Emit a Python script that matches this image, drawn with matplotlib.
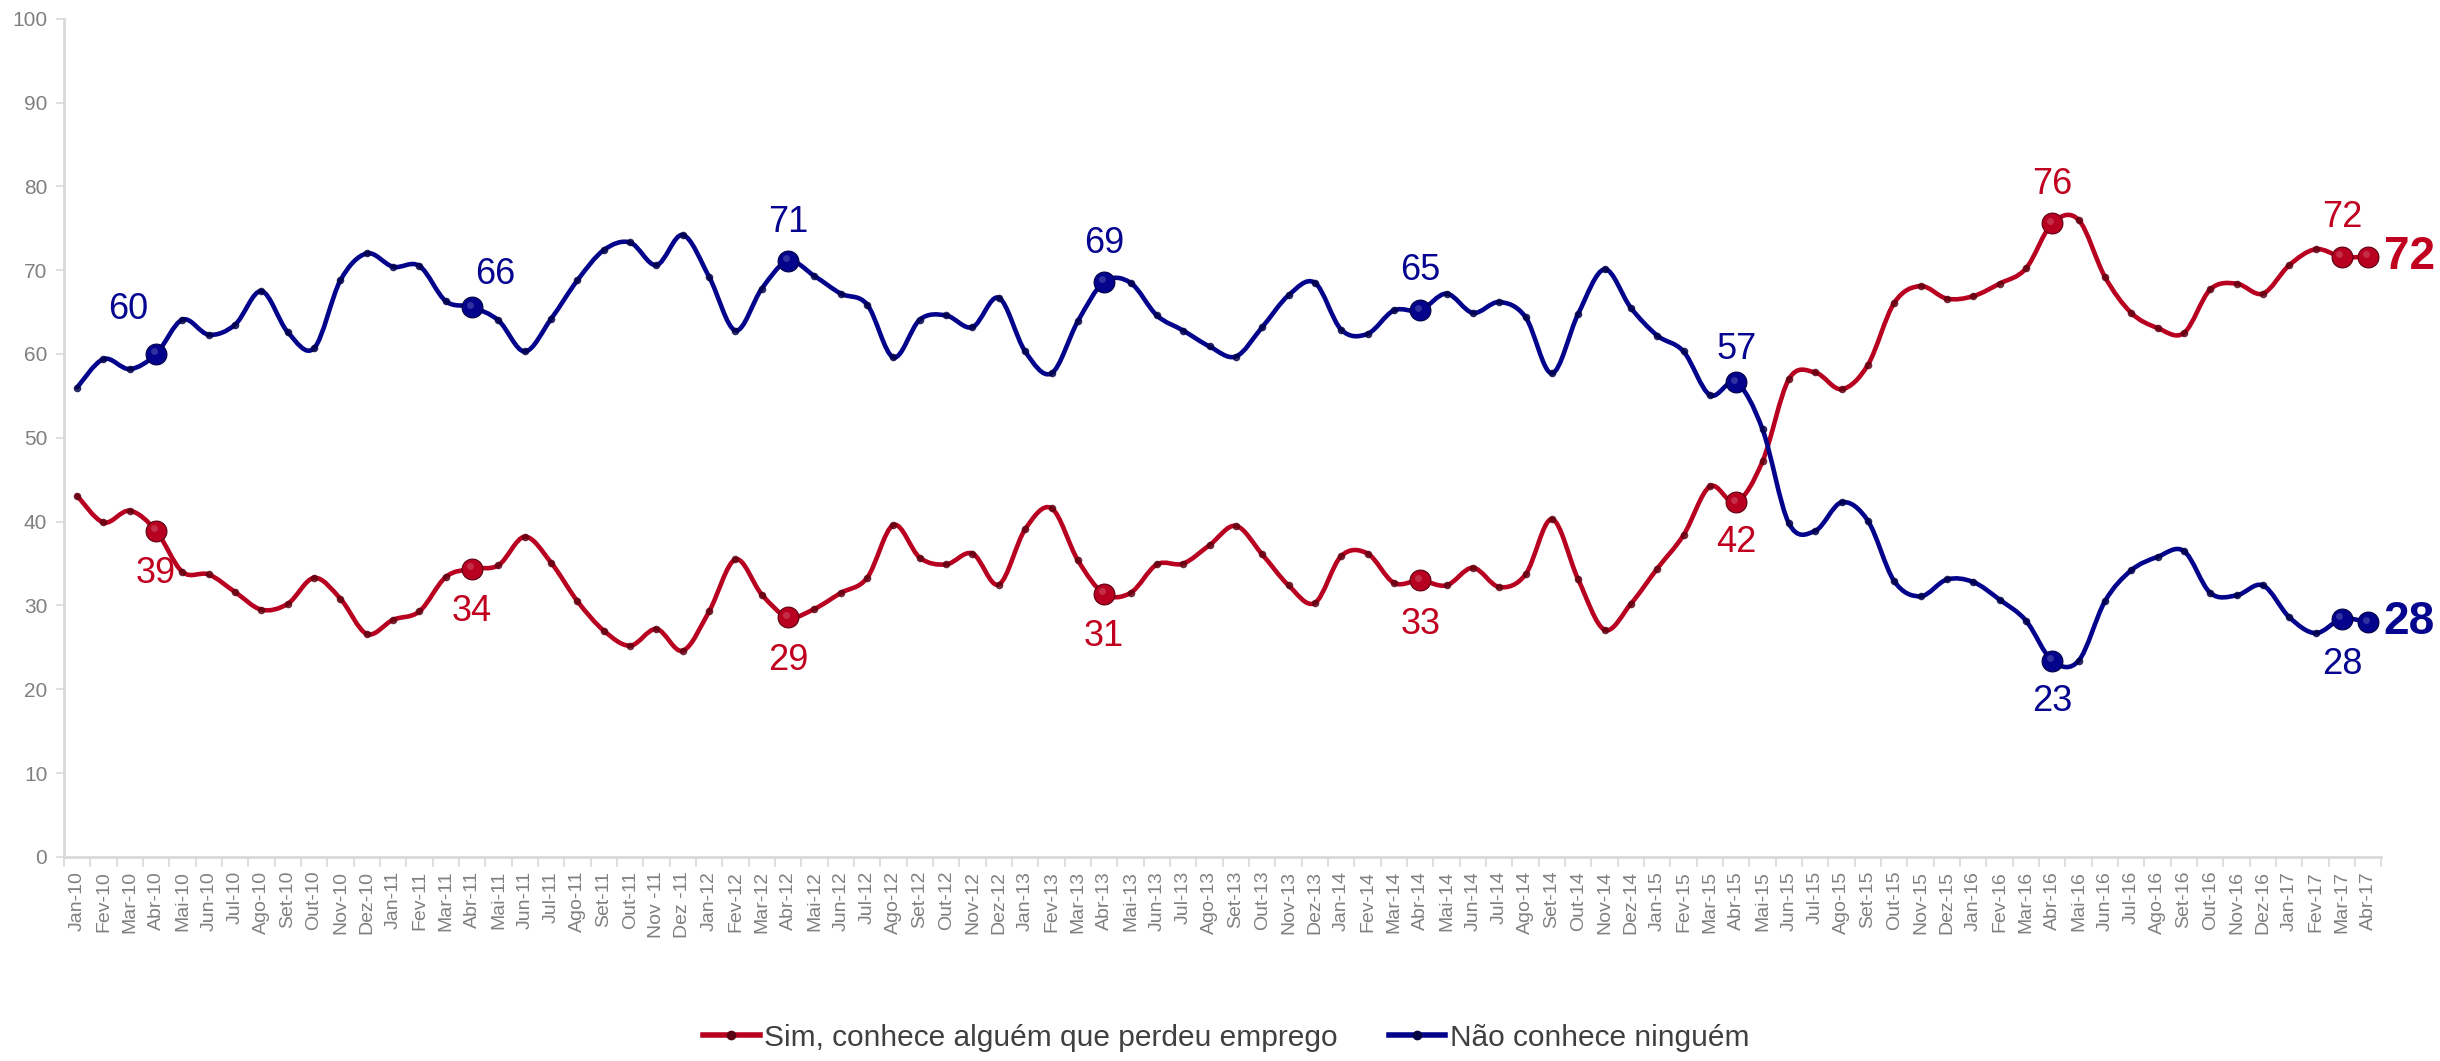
import matplotlib
matplotlib.use("Agg")
import matplotlib.pyplot as plt
from matplotlib.path import Path
from matplotlib.patches import PathPatch
from matplotlib.lines import Line2D
import matplotlib.transforms as mtransforms

plt.rcParams['font.family'] = ['Liberation Sans', 'DejaVu Sans']

months = ["Jan-10", "Fev-10", "Mar-10", "Abr-10", "Mai-10", "Jun-10", "Jul-10", "Ago-10", "Set-10", "Out-10", "Nov-10", "Dez-10",
          "Jan-11", "Fev-11", "Mar-11", "Abr-11", "Mai-11", "Jun-11", "Jul-11", "Ago-11", "Set-11", "Out-11", "Nov -11", "Dez -11",
          "Jan-12", "Fev-12", "Mar-12", "Abr-12", "Mai-12", "Jun-12", "Jul-12", "Ago-12", "Set-12", "Out-12", "Nov-12", "Dez-12",
          "Jan-13", "Fev-13", "Mar-13", "Abr-13", "Mai-13", "Jun-13", "Jul-13", "Ago-13", "Set-13", "Out-13", "Nov-13", "Dez-13",
          "Jan-14", "Fev-14", "Mar-14", "Abr-14", "Mai-14", "Jun-14", "Jul-14", "Ago-14", "Set-14", "Out-14", "Nov-14", "Dez-14",
          "Jan-15", "Fev-15", "Mar-15", "Abr-15", "Mai-15", "Jun-15", "Jul-15", "Ago-15", "Set-15", "Out-15", "Nov-15", "Dez-15",
          "Jan-16", "Fev-16", "Mar-16", "Abr-16", "Mai-16", "Jun-16", "Jul-16", "Ago-16", "Set-16", "Out-16", "Nov-16", "Dez-16",
          "Jan-17", "Fev-17", "Mar-17", "Abr-17"]

sim = [43.1, 39.9, 41.3, 38.9, 34.0, 33.7, 31.6, 29.5, 30.2, 33.3, 30.8, 26.6,
       28.3, 29.3, 33.4, 34.4, 34.8, 38.2, 35.1, 30.5, 27.0, 25.2, 27.2, 24.6,
       29.3, 35.5, 31.3, 28.6, 29.6, 31.5, 33.3, 39.6, 35.7, 34.9, 36.2, 32.5,
       39.1, 41.6, 35.4, 31.4, 31.5, 34.9, 35.0, 37.2, 39.5, 36.1, 32.4, 30.3,
       35.9, 36.2, 32.7, 33.0, 32.4, 34.5, 32.2, 33.7, 40.3, 33.1, 27.1, 30.2,
       34.4, 38.4, 44.2, 42.3, 47.2, 57.0, 57.8, 55.8, 58.7, 66.1, 68.1, 66.6,
       66.9, 68.4, 70.2, 75.6, 76.0, 69.2, 64.9, 63.1, 62.5, 67.7, 68.4, 67.2,
       70.6, 72.5, 71.6, 71.6]

nao = [56.0, 59.4, 58.2, 60.0, 64.1, 62.3, 63.5, 67.5, 62.6, 60.7, 68.8, 72.0,
       70.4, 70.5, 66.3, 65.6, 64.0, 60.3, 64.2, 68.8, 72.4, 73.3, 70.6, 74.2,
       69.2, 62.8, 67.8, 71.1, 69.3, 67.2, 65.9, 59.6, 64.1, 64.6, 63.2, 66.7,
       60.3, 57.7, 63.9, 68.6, 68.5, 64.6, 62.8, 60.9, 59.7, 63.2, 67.0, 68.5,
       62.9, 62.4, 65.2, 65.2, 67.2, 64.9, 66.2, 64.4, 57.7, 64.8, 70.1, 65.5,
       62.2, 60.3, 55.1, 56.6, 51.0, 39.8, 38.9, 42.3, 40.1, 32.9, 31.1, 33.1,
       32.8, 30.7, 28.2, 23.4, 23.4, 30.5, 34.2, 35.8, 36.5, 31.5, 31.2, 32.4,
       28.6, 26.7, 28.4, 28.0]

series_names = ["Sim, conhece alguém que perdeu emprego", "Não conhece ninguém"]
highlight = [3, 15, 27, 39, 51, 63, 75, 86]
last = 87

RED = '#B80020'
RED_TXT = '#C0001E'
RED_DOT = '#5A0010'
BLUE = '#03038C'
BLUE_TXT = '#05058F'
BLUE_DOT = '#000045'
GRAY = '#808080'
AXIS = '#D9D9D9'

fig = plt.figure(figsize=(24.4, 10.61), dpi=100)
ax = fig.add_axes([0.0262, 0.1923, 0.976 - 0.0262, 0.9824 - 0.1923])

x = list(range(len(months)))


def smooth_patch(xs, ys, color):
    n = len(xs)
    verts = [(xs[0], ys[0])]
    codes = [Path.MOVETO]
    for k in range(n - 1):
        p0 = k - 1 if k > 0 else k
        p3 = k + 2 if k + 2 < n else k + 1
        c1 = (xs[k] + (xs[k + 1] - xs[p0]) / 6.0, ys[k] + (ys[k + 1] - ys[p0]) / 6.0)
        c2 = (xs[k + 1] - (xs[p3] - xs[k]) / 6.0, ys[k + 1] - (ys[p3] - ys[k]) / 6.0)
        verts += [c1, c2, (xs[k + 1], ys[k + 1])]
        codes += [Path.CURVE4] * 3
    return PathPatch(Path(verts, codes), fill=False, edgecolor=color, lw=3.3,
                     capstyle='round', joinstyle='round', zorder=3)


for ys, col, dot in [(sim, RED, RED_DOT), (nao, BLUE, BLUE_DOT)]:
    ax.add_patch(smooth_patch(x, ys, col))
    ax.plot(x, ys, linestyle='none', marker='o', markersize=4.5,
            markerfacecolor=dot, markeredgecolor=dot, alpha=0.75, zorder=4)
    hx = highlight + [last]
    hy = [ys[i] for i in hx]
    ax.plot(hx, hy, linestyle='none', marker='o', markersize=15,
            markerfacecolor=col, markeredgecolor=dot, markeredgewidth=0.8, zorder=5)
    off = mtransforms.offset_copy(ax.transData, fig=fig, x=-1.8, y=1.8, units='points')
    ax.plot(hx, hy, linestyle='none', marker='o', markersize=5,
            markerfacecolor='white', markeredgecolor='none', alpha=0.18,
            transform=off, zorder=6)

# data labels (offsets in points)
blue_offsets = {3: (-20, 32), 15: (17, 23.5), 27: (0, 28), 39: (0, 28),
                51: (0, 29), 63: (0, 24), 75: (0, -29), 86: (0, -33)}
red_offsets = {3: (0, -31), 15: (0, -31), 27: (0, -31), 39: (0, -31),
               51: (0, -32), 63: (0, -29), 75: (0, 28), 86: (0, 28)}

for i, (dx, dy) in blue_offsets.items():
    ax.annotate(f"{round(nao[i])}", (i, nao[i]), xytext=(dx, dy), textcoords='offset points',
                ha='center', va='center', fontsize=26, color=BLUE_TXT, zorder=7)
for i, (dx, dy) in red_offsets.items():
    ax.annotate(f"{round(sim[i])}", (i, sim[i]), xytext=(dx, dy), textcoords='offset points',
                ha='center', va='center', fontsize=26, color=RED_TXT, zorder=7)

ax.annotate(f"{round(sim[last])}", (last, sim[last]), xytext=(11, 0), textcoords='offset points',
            ha='left', va='center', fontsize=33, fontweight='bold', color=RED_TXT,
            annotation_clip=False, zorder=7)
ax.annotate(f"{round(nao[last])}", (last, nao[last]), xytext=(11, 0), textcoords='offset points',
            ha='left', va='center', fontsize=33, fontweight='bold', color=BLUE_TXT,
            annotation_clip=False, zorder=7)

# axes styling
ax.set_xlim(-0.5, len(months) - 0.5)
ax.set_ylim(0, 100)
ax.set_yticks(range(0, 101, 10))
ax.set_xticks(x)
ax.set_xticklabels(months, rotation=90, fontsize=14, color=GRAY)
ax.set_xticks([i - 0.5 for i in range(len(months) + 1)], minor=True)
ax.tick_params(axis='x', which='major', length=0, pad=10)
ax.tick_params(axis='x', which='minor', length=7, width=1.2, color=AXIS, direction='out')
ax.tick_params(axis='y', which='major', length=6, width=1.2, color=AXIS, labelsize=15,
               labelcolor=GRAY, pad=6)
for s in ['top', 'right']:
    ax.spines[s].set_visible(False)
for s in ['left', 'bottom']:
    ax.spines[s].set_color(AXIS)
    ax.spines[s].set_linewidth(2)

handles = [Line2D([0], [0], color=RED, lw=4, marker='o', markersize=6,
                  markerfacecolor=RED_DOT, markeredgecolor=RED_DOT),
           Line2D([0], [0], color=BLUE, lw=4, marker='o', markersize=6,
                  markerfacecolor=BLUE_DOT, markeredgecolor=BLUE_DOT)]
fig.legend(handles, series_names, loc='center', bbox_to_anchor=(0.5025, 0.022), ncol=2,
           frameon=False, handlelength=1.9, handletextpad=0.15, columnspacing=1.7,
           prop={'family': ['Liberation Sans', 'DejaVu Sans'], 'size': 21.5},
           labelcolor='#404040')

fig.savefig("out.png", dpi=100)
